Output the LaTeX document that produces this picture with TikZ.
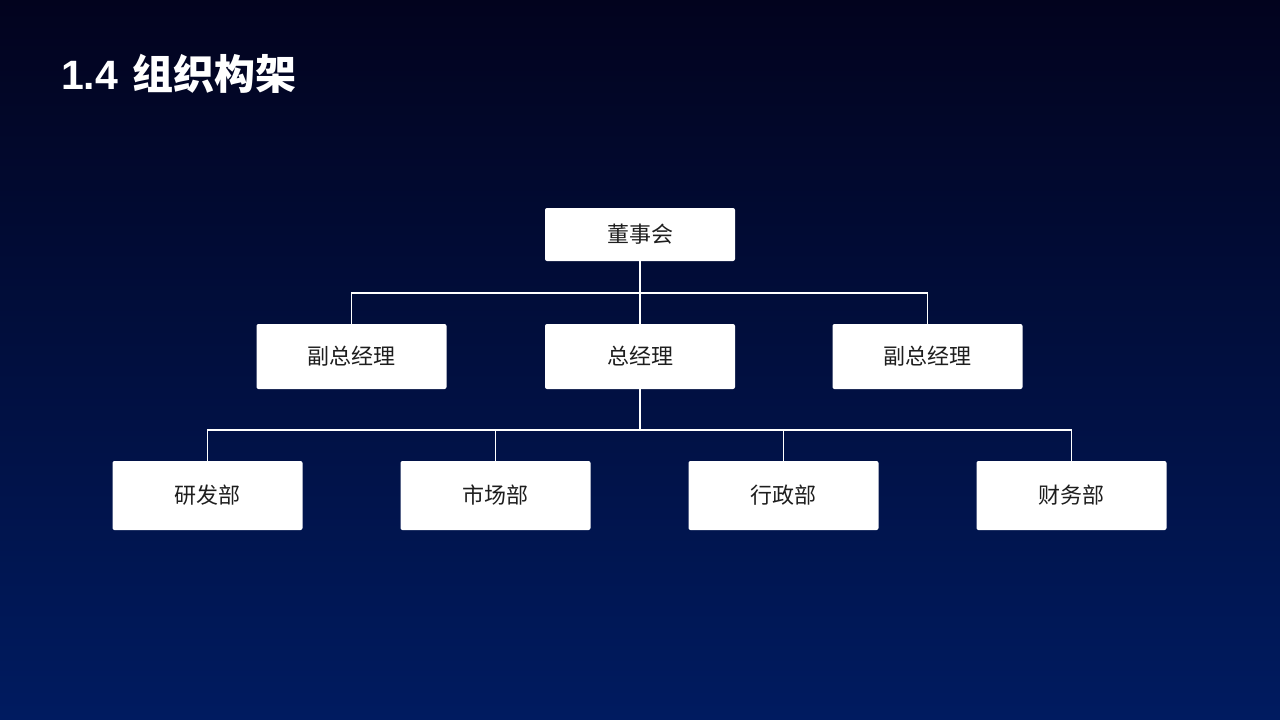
\documentclass[tikz,border=0pt]{standalone}
\usepackage{fontspec}
\setmainfont{Noto Sans CJK SC}
\newfontfamily\latinfont{Liberation Sans}
\usetikzlibrary{positioning}

\definecolor{bgtop}{RGB}{2,3,30}
\definecolor{bgbottom}{RGB}{0,27,96}
\definecolor{boxtext}{RGB}{30,30,30}

\begin{document}
\begin{tikzpicture}[x=1pt, y=1pt,
  unit/.style={draw=none, fill=white, rounded corners=2pt, minimum width=190pt,
               inner sep=0pt, text=boxtext, font=\fontsize{22}{24}\selectfont},
  link/.style={draw=white, line width=1.8pt}]

% Background
\shade[top color=bgtop, bottom color=bgbottom] (0,0) rectangle (1280,-720);
\useasboundingbox (0,0) rectangle (1280,-720);

% Title
\node[anchor=west, text=white, font=\bfseries\fontsize{41}{44}\selectfont, inner sep=0pt]
  (title) at (61,-74) {{\latinfont\bfseries 1.4}\hspace{14pt}组织构架};

% Top level
\node[unit, minimum height=53pt] (board) at (640,-234.5) {董事会};

% Managers
\node[unit, minimum height=65pt] (gm) at (640,-356.5) {总经理};
\node[unit, minimum height=65pt] (vpl) at (351.5,-356.5) {副总经理};
\node[unit, minimum height=65pt] (vpr) at (927.5,-356.5) {副总经理};

% Departments
\foreach \name/\x/\text in {rd/207.5/研发部, mkt/495.5/市场部, admin/783.5/行政部, fin/1071.5/财务部} {
  \node[unit, minimum height=69pt] (\name) at (\x,-495.5) {\text};
}

% Connectors
\draw[link] (board.south) -- (gm.north);
\draw[link] (vpl.north) -- ++(0,31) -| (vpr.north);
\foreach \d in {rd, mkt, admin, fin} {
  \draw[link] (gm.south) -- ++(0,-41) -| (\d.north);
}

\end{tikzpicture}
\end{document}
